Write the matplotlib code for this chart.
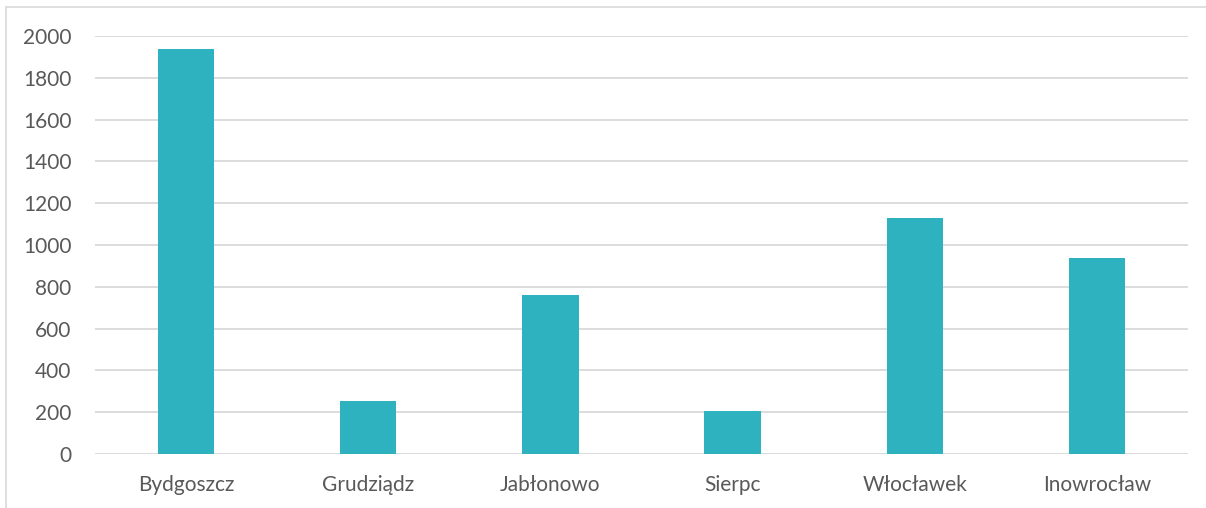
import matplotlib.pyplot as plt
from matplotlib.patches import Rectangle

miasta = ["Bydgoszcz", "Grudziądz", "Jabłonowo", "Sierpc", "Włocławek", "Inowrocław"]
wartosci = [1940, 255, 760, 205, 1130, 940]
yticks = [0, 200, 400, 600, 800, 1000, 1200, 1400, 1600, 1800, 2000]

plt.rcParams["font.family"] = ["Lato", "DejaVu Sans"]

fig = plt.figure(figsize=(12.06, 5.08), dpi=100)
ax = fig.add_axes([95 / 1206, 1 - 454 / 508, (1188 - 95) / 1206, (454 - 36) / 508])

ax.bar(range(len(miasta)), wartosci, width=0.31, color="#2FB2C0", zorder=3)
ax.set_xlim(-0.5, len(miasta) - 0.5)
ax.set_ylim(0, 2000)
ax.set_yticks(yticks)
ax.set_xticks(range(len(miasta)))
ax.set_xticklabels(miasta)
ax.grid(axis="y", color="#D9D9D9", linewidth=1.3, zorder=0)
for s in ax.spines.values():
    s.set_visible(False)
ax.tick_params(length=0, labelsize=15, colors="#595959")
ax.tick_params(axis="y", pad=17)
ax.tick_params(axis="x", pad=15)

# ramka wykresu (widoczna tylko lewa i górna krawędź)
fig.patches.append(Rectangle((6 / 1206, -0.5), 1.5, 1.5 - 7 / 508, transform=fig.transFigure,
                             fill=False, edgecolor="#D9D9D9", linewidth=1.2))

fig.savefig("out.png", dpi=100)
